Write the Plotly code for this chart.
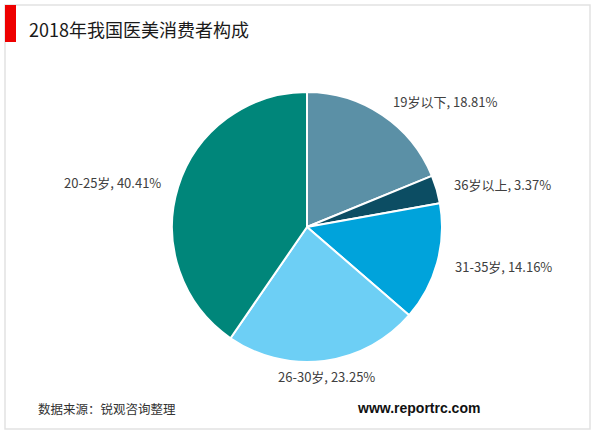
import math
import plotly.graph_objects as go

# Data
categories = ["19岁以下", "36岁以上", "31-35岁", "26-30岁", "20-25岁"]
shares = [18.81, 3.37, 14.16, 23.25, 40.41]
colors = ["#5B90A6", "#0C4D63", "#00A3DB", "#6DCFF5", "#00867A"]

W, H = 600, 433
CX, CY, R = 307, 227, 135  # pie centre / radius in pixels


def px(x):
    return x / W


def py(y):
    return 1 - y / H


fig = go.Figure(
    go.Pie(
        labels=categories,
        values=shares,
        sort=False,
        direction="clockwise",
        rotation=0,
        marker=dict(colors=colors, line=dict(color="#ffffff", width=2)),
        textinfo="none",
        hoverinfo="label+value",
        showlegend=False,
        domain=dict(x=[px(CX - R), px(CX + R)], y=[py(CY + R), py(CY - R)]),
    )
)

# Outside labels positioned from each slice's mid-angle
annotations = []
total = sum(shares)
cum = 0.0
gap = 16
for cat, v in zip(categories, shares):
    mid = (cum + v / 2) / total * 2 * math.pi
    cum += v
    s, c = math.sin(mid), math.cos(mid)
    lx = CX + (R + gap) * s
    ly = CY - (R + gap) * c
    if s > 0.3:
        xa = "left"
    elif s < -0.3:
        xa = "right"
    else:
        xa = "center"
    annotations.append(
        dict(
            x=px(lx), y=py(ly), xref="paper", yref="paper",
            text=f"{cat}, {v:.2f}%", showarrow=False,
            xanchor=xa, yanchor="middle",
            font=dict(size=13, color="#404040", family="Noto Sans CJK SC"),
        )
    )

annotations += [
    dict(x=px(27), y=py(29), xref="paper", yref="paper", text="2018年我国医美消费者构成",
         showarrow=False, xanchor="left", yanchor="middle",
         font=dict(size=18, color="#1a1a1a", family="Noto Sans CJK SC")),
    dict(x=px(36), y=py(408), xref="paper", yref="paper", text="数据来源：锐观咨询整理",
         showarrow=False, xanchor="left", yanchor="middle",
         font=dict(size=12.5, color="#333333", family="Noto Sans CJK SC")),
    dict(x=px(482), y=py(408), xref="paper", yref="paper", text="<b>www.reportrc.com</b>",
         showarrow=False, xanchor="right", yanchor="middle",
         font=dict(size=14, color="#111111", family="Liberation Sans")),
]

shapes = [
    dict(type="rect", xref="paper", yref="paper", x0=px(5), x1=px(590), y0=py(429), y1=py(5),
         line=dict(color="#e2e2e2", width=1.5), fillcolor="rgba(0,0,0,0)", layer="below"),
    dict(type="rect", xref="paper", yref="paper", x0=px(5), x1=px(16), y0=py(42), y1=py(5),
         line=dict(width=0), fillcolor="#EE0000"),
]

fig.update_layout(
    width=W, height=H,
    margin=dict(l=0, r=0, t=0, b=0),
    paper_bgcolor="#ffffff", plot_bgcolor="#ffffff",
    annotations=annotations, shapes=shapes,
)

fig.write_html(
    "out.html",
    config={"displayModeBar": False},
    post_script="document.body.style.margin='0';document.body.style.overflow='hidden';",
)
